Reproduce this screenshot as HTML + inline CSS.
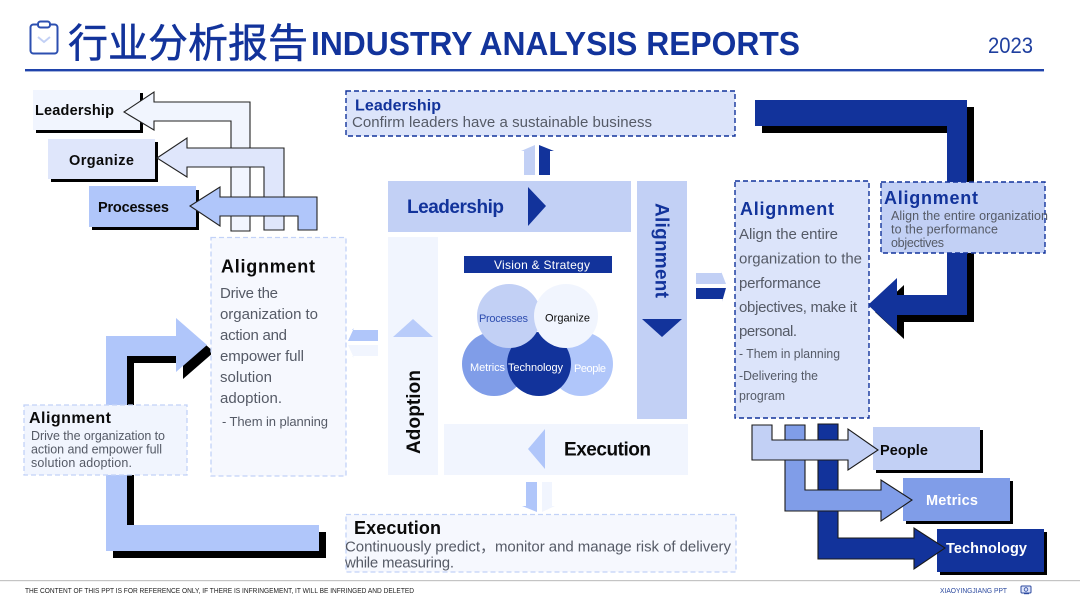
<!DOCTYPE html>
<html><head><meta charset="utf-8"><style>
html,body{margin:0;padding:0;background:#fff;width:1080px;height:608px;overflow:hidden}
svg{display:block}
text{font-family:"Liberation Sans","Noto Sans CJK SC",sans-serif}
.b{font-weight:700}
.g{fill:#555a66}
.d{fill:#12339b}
.k{fill:#0a0a0a}
.w{fill:#fff}
</style></head><body>
<svg width="1080" height="608" viewBox="0 0 1080 608" xmlns="http://www.w3.org/2000/svg">
<!-- header -->
<rect x="30.5" y="24.5" width="27" height="29" rx="3" fill="#fff" stroke="#2c4fb0" stroke-width="2"/>
<rect x="38" y="21.5" width="12" height="6" rx="2.5" fill="#fff" stroke="#2c4fb0" stroke-width="2"/>
<path d="M38 37l6 5 6-5" fill="none" stroke="#c2d0f5" stroke-width="2"/>
<text x="68" y="57" font-size="40" class="d" stroke="#12339b" stroke-width=".5" textLength="240">行业分析报告</text>
<text x="311" y="55" font-size="33" class="b d" textLength="489" lengthAdjust="spacingAndGlyphs">INDUSTRY ANALYSIS REPORTS</text>
<text x="988" y="53" font-size="22" fill="#1f3f9f" textLength="45" lengthAdjust="spacingAndGlyphs">2023</text>
<rect x="25" y="69" width="1019" height="2.4" fill="#1f43ab"/>
<!-- footer -->
<rect x="0" y="580" width="1080" height="1.2" fill="#c4c4c4"/>
<text x="25" y="593" font-size="7.6" fill="#222" textLength="389" lengthAdjust="spacingAndGlyphs">THE CONTENT OF THIS PPT IS FOR REFERENCE ONLY, IF THERE IS INFRINGEMENT, IT WILL BE INFRINGED AND DELETED</text>
<text x="940" y="593" font-size="7.6" fill="#2c4a9f" textLength="67" lengthAdjust="spacingAndGlyphs">XIAOYINGJIANG PPT</text>
<rect x="1021" y="586" width="10" height="7" rx="1" fill="#dfe6fb" stroke="#2c4a9f"/>
<circle cx="1026" cy="589.5" r="1.8" fill="none" stroke="#2c4a9f" stroke-width=".8"/>
<rect x="1024" y="593" width="5" height="1.2" fill="#2c4a9f"/>

<!-- top-left boxes -->
<rect x="36" y="93" width="107" height="40" fill="#000"/>
<rect x="33" y="90" width="107" height="40" fill="#f1f5fe"/>
<rect x="51" y="142" width="107" height="40" fill="#000"/>
<rect x="48" y="139" width="107" height="40" fill="#dfe6fb"/>
<rect x="92" y="190" width="107" height="40" fill="#000"/>
<rect x="89" y="186" width="107" height="41" fill="#b0c6fa"/>
<path d="M124 112L154 92V102H250V231H231V121H154V130Z" fill="#f1f5fe" stroke="#222" stroke-width="1.1"/>
<path d="M157 158L187 138V148H284V230H264V167H187V177Z" fill="#dfe6fb" stroke="#222" stroke-width="1.1"/>
<path d="M190 206L220 187V197H317V230H298V216H220V226Z" fill="#b0c6fa" stroke="#222" stroke-width="1.1"/>
<text x="35" y="115" font-size="14.500" class="b k" textLength="79">Leadership</text>
<text x="69" y="165" font-size="14.500" class="b k" textLength="65">Organize</text>
<text x="98" y="212" font-size="14.500" class="b k" textLength="71">Processes</text>

<!-- left big arrow -->
<path d="M113 343H183V325L214 352L183 379V363H134V532H326V558H113Z" fill="#000"/>
<path d="M106 336H176V318L207 345L176 372V356H127V525H319V551H106Z" fill="#b0c6fa"/>
<!-- left box -->
<rect x="211" y="237.500" width="135" height="238.500" fill="#f6f8fe" stroke="#c2d2f8" stroke-width="1.3" stroke-dasharray="5 3"/>
<text x="221" y="272.500" font-size="18" class="b k" textLength="94">Alignment</text>
<g font-size="15" class="g">
<text x="220" y="298" textLength="58">Drive the</text>
<text x="220" y="319" textLength="98">organization to</text>
<text x="220" y="340" textLength="67">action and</text>
<text x="220" y="361" textLength="84">empower full</text>
<text x="220" y="382" textLength="52">solution</text>
<text x="220" y="403" textLength="62">adoption.</text>
</g>
<text x="222" y="426" font-size="13" class="g" textLength="106">- Them in planning</text>
<!-- small left box -->
<rect x="24" y="405" width="163" height="70" fill="#f1f5fe" stroke="#c2d2f8" stroke-width="1.3" stroke-dasharray="5 3"/>
<text x="29" y="423" font-size="16" class="b k" textLength="82">Alignment</text>
<g font-size="12.500" class="g">
<text x="31" y="440" textLength="134">Drive the organization to</text>
<text x="31" y="453.500" textLength="131">action and empower full</text>
<text x="31" y="467" textLength="101">solution  adoption.</text>
</g>

<!-- top box -->
<rect x="346" y="91" width="389" height="45" fill="#dce4fa" stroke="#12339b" stroke-width="1.4" stroke-dasharray="5 3"/>
<text x="355" y="110.500" font-size="16" class="b d" textLength="86">Leadership</text>
<text x="352" y="127" font-size="15" class="g" textLength="300">Confirm leaders have a sustainable business</text>
<path d="M524 175V151H521L535 145V175Z" fill="#c2d0f5"/>
<path d="M539 175V145L554 151H550V175Z" fill="#12339b"/>

<!-- central -->
<rect x="388" y="181" width="243" height="51" fill="#c2d0f5"/>
<text x="407" y="213" font-size="19" class="b d" textLength="97">Leadership</text>
<path d="M528 187L546 206L528 226Z" fill="#12339b"/>
<rect x="637" y="181" width="50" height="238" fill="#c2d0f5"/>
<text transform="translate(655.500 203) rotate(90)" font-size="19" class="b d" textLength="95">Alignment</text>
<path d="M642 319H682L662 337Z" fill="#12339b"/>
<rect x="388" y="237" width="50" height="238" fill="#f1f5fe"/>
<path d="M393 337H433L413 319Z" fill="#b9ccfa"/>
<text transform="translate(420 454) rotate(-90)" font-size="19" class="b k" textLength="84">Adoption</text>
<rect x="444" y="424" width="244" height="51" fill="#f1f5fe"/>
<path d="M545 429V469L528 449Z" fill="#b0c6fa"/>
<text x="564" y="455.500" font-size="19" class="b k" textLength="87">Execution</text>

<rect x="464" y="256" width="148" height="17" fill="#12339b"/>
<text x="494" y="269" font-size="12" class="w" textLength="96">Vision &amp; Strategy</text>
<circle cx="494" cy="364" r="32" fill="#809de8"/>
<circle cx="581" cy="364" r="32" fill="#b0c6fa"/>
<circle cx="539" cy="364" r="32" fill="#12339b"/>
<circle cx="509" cy="316" r="32" fill="#c2d0f5"/>
<circle cx="566" cy="316" r="32" fill="#f1f5fe"/>
<text x="479" y="322" font-size="11" fill="#2f4eb0" textLength="49">Processes</text>
<text x="545" y="321.500" font-size="11" class="k" textLength="45">Organize</text>
<text x="470" y="371" font-size="11" class="w" textLength="35">Metrics</text>
<text x="508" y="371" font-size="11" class="w" textLength="55">Technology</text>
<text x="574" y="372" font-size="11" class="w" textLength="32">People</text>

<!-- small arrows -->
<path d="M696 273H722L721 271L726 284H696Z" fill="#c2d0f5"/>
<path d="M696 288H726L722 302L723 299H696Z" fill="#12339b"/>
<path d="M378 330H352L354 328L348 341H378Z" fill="#b0c6fa"/>
<path d="M378 345H348L354 358L352 356H378Z" fill="#f1f5fe"/>
<path d="M526 482H537V512L522 506H526Z" fill="#b0c6fa"/>
<path d="M542 482H552V506H555L542 512Z" fill="#f1f5fe"/>

<!-- bottom box -->
<rect x="346" y="514.500" width="390" height="57.500" fill="#f6f8fe" stroke="#c2d2f8" stroke-width="1.3" stroke-dasharray="5 3"/>
<text x="354" y="534" font-size="18" class="b k" textLength="87">Execution</text>
<text x="345" y="551.500" font-size="15" class="g" textLength="386">Continuously predict，monitor and manage risk of  delivery</text>
<text x="345" y="567.500" font-size="15" class="g" textLength="109">while measuring.</text>

<!-- right big arrow -->
<path d="M762 107H974V322H904V339L875 312L904 285V302H954V133H762Z" fill="#000"/>
<path d="M755 100H967V315H897V332L868 305L897 278V295H947V126H755Z" fill="#12339b"/>
<rect x="735" y="181" width="134" height="237" fill="#dce4fa" stroke="#12339b" stroke-width="1.4" stroke-dasharray="5 3"/>
<text x="740" y="215" font-size="18" class="b d" textLength="94">Alignment</text>
<g font-size="15" class="g">
<text x="739" y="239" textLength="99">Align the entire</text>
<text x="739" y="263.500" textLength="123">organization to the</text>
<text x="739" y="288" textLength="82">performance</text>
<text x="739" y="312" textLength="118">objectives, make it</text>
<text x="739" y="336" textLength="58">personal.</text>
</g>
<g font-size="13" class="g">
<text x="739" y="358" textLength="101" lengthAdjust="spacingAndGlyphs">- Them in planning</text>
<text x="739" y="380" textLength="79" lengthAdjust="spacingAndGlyphs">-Delivering the</text>
<text x="739" y="400" textLength="46" lengthAdjust="spacingAndGlyphs">program</text>
</g>
<rect x="881" y="182" width="164" height="71" fill="#c2d0f5" stroke="#12339b" stroke-width="1.4" stroke-dasharray="5 3"/>
<text x="884" y="204" font-size="18" class="b d" textLength="94">Alignment</text>
<g font-size="12.500" class="g">
<text x="891" y="220" textLength="157">Align the entire  organization</text>
<text x="891" y="233.500" textLength="107">to the  performance</text>
<text x="891" y="247" textLength="53">objectives</text>
</g>

<!-- bottom-right boxes -->
<rect x="876" y="430" width="107" height="43" fill="#000"/>
<rect x="873" y="427" width="107" height="43" fill="#c2d0f5"/>
<rect x="906" y="481" width="107" height="43" fill="#000"/>
<rect x="903" y="478" width="107" height="43" fill="#809de8"/>
<rect x="940" y="532" width="107" height="43" fill="#000"/>
<rect x="937" y="529" width="107" height="43" fill="#12339b"/>
<path d="M818 424H838V538H914V528L945 548L914 569V559H818Z" fill="#12339b" stroke="#1a1a1a" stroke-width="1.1"/>
<path d="M785 425H805V490H881V480L912 500L881 521V511H785Z" fill="#809de8" stroke="#1a1a1a" stroke-width="1.1"/>
<path d="M752 425H772V440H848V429L878 450L848 470V460H752Z" fill="#c2d0f5" stroke="#1a1a1a" stroke-width="1.1"/>
<text x="880" y="455" font-size="14.500" class="b k" textLength="48">People</text>
<text x="926" y="505" font-size="14.500" class="b w" textLength="52">Metrics</text>
<text x="946" y="553" font-size="14.500" class="b w" textLength="81">Technology</text>
</svg>
</body></html>
